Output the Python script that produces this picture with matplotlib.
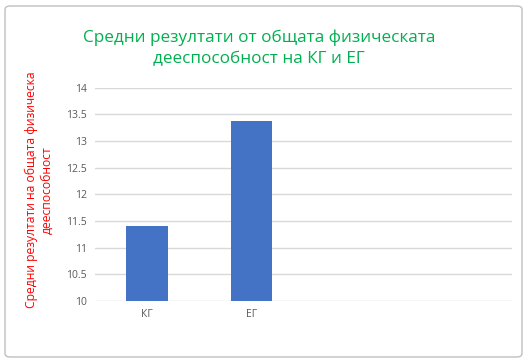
import matplotlib.pyplot as plt
from matplotlib.patches import FancyBboxPatch

plt.rcParams['font.family'] = ['Open Sans', 'DejaVu Sans']

# данни
categories = ['КГ', 'ЕГ', '', '']
values = [11.4, 13.37, None, None]
yticks = [10, 10.5, 11, 11.5, 12, 12.5, 13, 13.5, 14]

fig = plt.figure(figsize=(5.28, 3.63), dpi=100)
ax = fig.add_axes([0.18, 0.171, 0.79, 0.587])

xs = list(range(len(categories)))
bx = [x for x, v in zip(xs, values) if v is not None]
bv = [v for v in values if v is not None]
ax.bar(bx, [v - 10 for v in bv], bottom=10, width=0.4, color='#4472C4', zorder=3)

ax.set_xlim(-0.5, len(categories) - 0.5)
ax.set_ylim(10, 14)
ax.set_xticks(xs)
ax.set_xticklabels(categories, fontsize=7.5, color='#595959')
ax.set_yticks(yticks)
ax.set_yticklabels([f'{t:g}' for t in yticks], fontsize=7.5, color='#595959')
ax.tick_params(length=0, pad=6)
ax.grid(axis='y', color='#d9d9d9', linewidth=1, zorder=0)
for s in ax.spines.values():
    s.set_visible(False)

fig.text(259 / 528, 1 - 48 / 363,
         'Средни резултати от общата физическата\nдееспособност на КГ и ЕГ',
         ha='center', va='center', ma='center', fontsize=12.3, color='#00B050',
         linespacing=1.45)

fig.text(39 / 528, 1 - 190 / 363,
         'Средни резултати на общата физическа\nдееспособност',
         rotation=90, ha='center', va='center', ma='center', fontsize=8.7,
         color='#FF0000', linespacing=1.25)

border = FancyBboxPatch((5 / 528, 6 / 363), 517 / 528, 351 / 363,
                        boxstyle='round,pad=0,rounding_size=0.01',
                        transform=fig.transFigure, facecolor='none',
                        edgecolor='#bfbfbf', linewidth=1)
fig.patches.append(border)

fig.savefig('out.png', dpi=100)
